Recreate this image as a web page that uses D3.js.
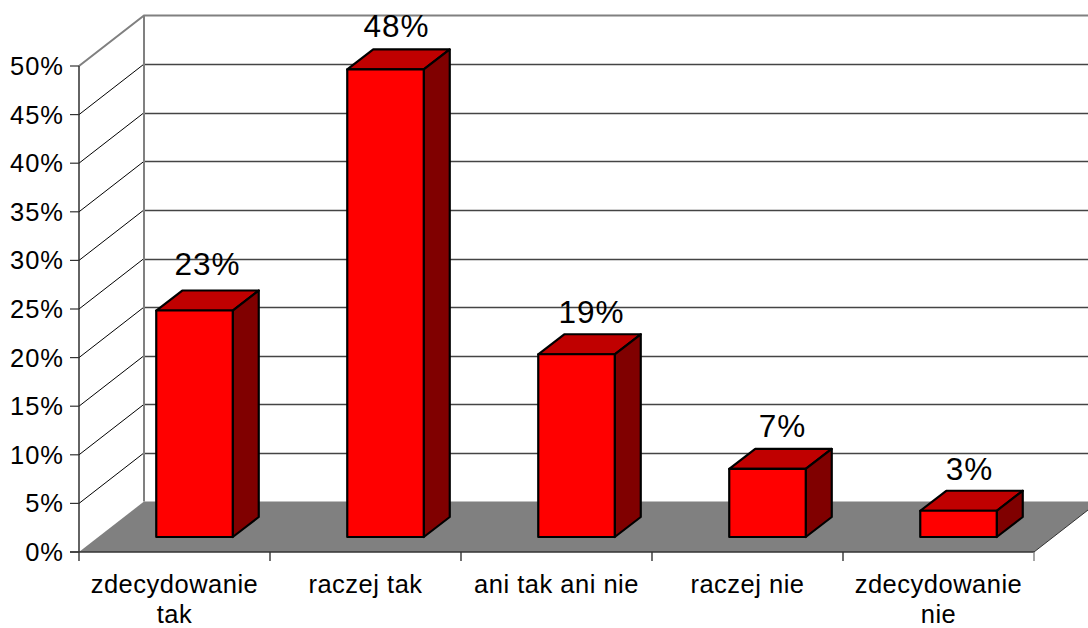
<!DOCTYPE html>
<html><head><meta charset="utf-8">
<script src="https://cdn.jsdelivr.net/npm/d3@7"></script>
<style>html,body{margin:0;padding:0;background:#fff;overflow:hidden}svg{display:block}text{font-family:"Liberation Sans",Arial,sans-serif;fill:#000}</style>
</head><body><svg id="c" width="1088" height="628"></svg>
<script>
const categories=[["zdecydowanie","tak"],["raczej tak"],["ani tak ani nie"],["raczej nie"],["zdecydowanie","nie"]];
const values=[23.3,48.1,18.8,7,2.7];
const valueLabels=["23%","48%","19%","7%","3%"];
const tickValues=[0,5,10,15,20,25,30,35,40,45,50];
const svg=d3.select("#c");
const W=1088,x0=79,x1=1034,y0=552,y1=66,dX=65,dY=50.5;
const x=d3.scaleBand().domain(d3.range(values.length)).range([x0,x1]).paddingInner(0).paddingOuter(0);
const y=d3.scaleLinear().domain([0,50]).range([y0,y1]);
const bw=76.5,fx=20,fy=15,bx=26,by=20;
const nudgeX=[0,-2,2,2,-2],nudgeY=[-4,0,1,0,1];
const grey="#808080";
svg.append("path").attr("d",d3.line()([[x0,y0],[x0+dX,y0-dY],[x1+dX,y0-dY],[x1,y0]])).attr("fill",grey);
const g=svg.append("g");
tickValues.slice(1,-1).forEach(t=>{
  g.append("path").attr("d",d3.line()([[x0,y(t)],[x0+dX,y(t)-dY]])).attr("fill","none").attr("stroke","#000").attr("stroke-width",1);
  g.append("line").attr("x1",x0+dX).attr("x2",W).attr("y1",Math.round(y(t)-dY)+.5).attr("y2",Math.round(y(t)-dY)+.5).attr("stroke","#444").attr("stroke-width",1.3);
});
g.append("path").attr("d",d3.line()([[x0,y1],[x0+dX,y1-dY],[W,y1-dY]])).attr("fill","none").attr("stroke",grey).attr("stroke-width",2);
g.append("line").attr("x1",x0+dX).attr("x2",x0+dX).attr("y1",y1-dY).attr("y2",y0-dY).attr("stroke",grey).attr("stroke-width",2);
svg.append("line").attr("x1",x0).attr("x2",x0).attr("y1",y1).attr("y2",y0).attr("stroke","#222").attr("stroke-width",1.4);
svg.append("line").attr("x1",x0-9).attr("x2",x1).attr("y1",y0).attr("y2",y0).attr("stroke","#333").attr("stroke-width",1.4);
tickValues.forEach(t=>{
  svg.append("line").attr("x1",x0-9).attr("x2",x0).attr("y1",y(t)).attr("y2",y(t)).attr("stroke","#333").attr("stroke-width",1.2);
  svg.append("text").attr("x",64).attr("y",y(t)+9).attr("text-anchor","end").attr("font-size",25.5).attr("letter-spacing",1).text(t+"%");
});
d3.range(values.length+1).forEach(i=>{
  const px=x0+i*x.bandwidth();
  svg.append("line").attr("x1",px).attr("x2",px).attr("y1",y0).attr("y2",y0+9).attr("stroke",i==values.length?grey:"#333").attr("stroke-width",1.4);
});
svg.append("path").attr("d",d3.line()([[x1,y0],[W,y0-42]])).attr("fill","none").attr("stroke","#333").attr("stroke-width",1);
values.forEach((v,i)=>{
  const cx=x(i)+x.bandwidth()/2+fx, l=cx-bw/2, r=cx+bw/2, bot=y0-fy, top=y(v)-fy;
  const st={stroke:"#000","stroke-width":2.2,"stroke-linejoin":"round"};
  const add=(pts,fill)=>{const p=svg.append("path").attr("d",d3.line()(pts)+"Z").attr("fill",fill);for(const k in st)p.attr(k,st[k]);};
  add([[l,top],[r,top],[r+bx,top-by],[l+bx,top-by]],"#c00000");
  add([[r,top],[r+bx,top-by],[r+bx,bot-by],[r,bot]],"#800000");
  add([[l,top],[r,top],[r,bot],[l,bot]],"#ff0000");
  svg.append("text").attr("x",cx+13+nudgeX[i]).attr("y",top-by-12+nudgeY[i]).attr("text-anchor","middle").attr("font-size",31.5).attr("letter-spacing",1).text(valueLabels[i]);
  categories[i].forEach((c,j)=>{
    svg.append("text").attr("x",x(i)+x.bandwidth()/2).attr("y",592.5+j*30).attr("text-anchor","middle").attr("font-size",25.5).attr("letter-spacing",.5).text(c);
  });
});
</script></body></html>
